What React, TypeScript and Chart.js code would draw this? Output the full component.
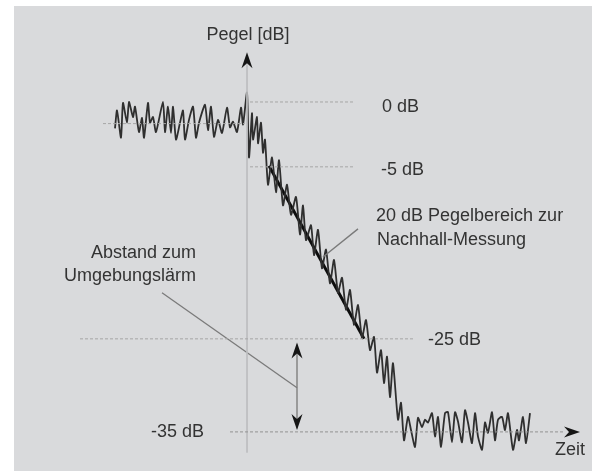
import React, { useEffect, useRef } from "react";
import { Chart, registerables } from "chart.js";

Chart.register(...registerables);

// Measured level curve (time in ms relative to switch-off, level in dB)
const timeMs = [
  -132, -130, -126, -124, -120, -118, -114, -112, -108, -105, -103, -99, -97, -94, -91, -84, -82, -79, -76, -74,
  -71, -67, -64, -62, -58, -54, -51, -48, -42, -39, -36, -33, -29, -25, -20, -17, -14, -10, -6, -4,
  0, 2, 5, 6, 10, 11, 14, 16, 18, 21, 25, 29, 32, 36, 40, 44, 49, 53, 56, 59,
  64, 67, 71, 75, 79, 83, 87, 91, 95, 99, 103, 107, 111, 115, 119, 123, 127, 130, 134, 137,
  140, 143, 146, 151, 154, 157, 161, 164, 168, 171, 175, 178, 181, 185, 188, 191, 194, 198, 201, 205,
  208, 211, 215, 218, 221, 225, 228, 231, 235, 238, 241, 245, 248, 251, 255, 258, 261, 266, 270, 272,
  276, 279, 283,
];
const levelDb = [
  -2.8, -0.9, -3.8, -0.1, -2.2, 0.0, -1.6, -0.5, -3.2, -1.7, -3.8, -0.1, -2.2, -1.6, -3.2, 0.0, -3.2, -0.5, -3.3, -0.5,
  -4.0, -2.2, -0.9, -4.0, -1.9, -0.5, -3.8, -2.2, -0.3, -3.0, -0.5, -3.7, -1.9, -3.3, -0.6, -2.7, -2.1, -3.2, -0.6, -2.4,
  1.0, -5.9, -1.2, -4.0, -1.6, -4.4, -2.2, -5.4, -4.0, -8.8, -5.9, -9.6, -6.2, -11.0, -8.8, -12.0, -10.1, -14.1, -11.0, -14.7,
  -13.1, -16.3, -13.6, -17.7, -15.7, -19.3, -16.8, -20.3, -18.7, -22.1, -20.0, -23.7, -21.6, -25.1, -23.2, -26.4, -25.0, -28.8, -26.4, -29.9,
  -27.1, -31.4, -27.8, -33.8, -32.0, -36.0, -33.5, -34.9, -36.7, -33.6, -34.6, -33.8, -34.1, -33.1, -35.6, -33.5, -36.7, -33.1, -33.0, -36.2,
  -33.0, -34.0, -36.2, -32.8, -34.1, -36.3, -33.1, -35.6, -37.0, -34.1, -35.2, -33.0, -36.0, -33.8, -33.5, -34.9, -33.1, -37.0, -34.9, -36.0,
  -33.5, -36.3, -33.1,
];

// Regression line over the 20 dB evaluation range
const regressionMs = [22, 117];
const regressionDb = [-6.8, -25.2];

// Reference level lines
const refLevelDb = [0, -6.9, -25.2, -35.1, -2.3];
const refStartMs = [3, 3, -167, -17, -144];
const refEndMs = [108, 106, 166, 316, -2];

// Level axis (vertical)
const axisMs = [0, 0];
const axisDb = [4.5, -37.3];

// Leader lines
const leaderAbstandMs = [-85, 50];
const leaderAbstandDb = [-20.3, -30.4];
const leaderRangeMs = [76, 111];
const leaderRangeDb = [-16.5, -13.5];

// Double arrow (distance to ambient noise)
const gapMs = [50, 50];
const gapDb = [-25.8, -34.7];

// Arrow heads
const arrowMs = [0, 50, 50, 333];
const arrowDb = [5.3, -25.6, -34.9, -35.1];
const arrowDir = ["up", "up", "down", "right"];

// Text labels
const labelText = [
  "Pegel [dB]", "0 dB", "-5 dB", "20 dB Pegelbereich zur", "Nachhall-Messung",
  "Abstand zum", "Umgebungslärm", "-25 dB", "-35 dB", "Zeit",
];
const labelMs = [1, 135, 134, 129, 130, -51, -51, 181, -96, 308];
const labelDb = [7.1, -0.5, -7.2, -12.1, -14.7, -16.1, -18.5, -25.3, -35.1, -37.0];
const labelAlign = ["center", "left", "left", "left", "left", "right", "right", "left", "left", "left"];

const pts = (xs: number[], ys: number[]) => xs.map((x, i) => ({ x, y: ys[i] }));

function drawArrow(ctx: CanvasRenderingContext2D, px: number, py: number, dir: string) {
  const len = 16, half = 5.5, notch = 11;
  const ang = dir === "up" ? 0 : dir === "down" ? Math.PI : Math.PI / 2;
  ctx.save();
  ctx.translate(px, py);
  ctx.rotate(ang);
  ctx.beginPath();
  ctx.moveTo(0, 0);
  ctx.lineTo(-half, len);
  ctx.lineTo(0, notch);
  ctx.lineTo(half, len);
  ctx.closePath();
  ctx.fillStyle = "#151515";
  ctx.fill();
  ctx.restore();
}

const annotPlugin = {
  id: "annot",
  afterDatasetsDraw(chart: any) {
    const { ctx, scales } = chart;
    const xs = scales.x, ys = scales.y;
    ctx.save();
    arrowMs.forEach((t, i) => {
      drawArrow(ctx, xs.getPixelForValue(t), ys.getPixelForValue(arrowDb[i]), arrowDir[i]);
    });
    ctx.font = '18px "Liberation Sans", Arial, sans-serif';
    ctx.fillStyle = "#333333";
    ctx.textBaseline = "middle";
    labelText.forEach((s, i) => {
      ctx.textAlign = labelAlign[i];
      ctx.fillText(s, xs.getPixelForValue(labelMs[i]), ys.getPixelForValue(labelDb[i]));
    });
    ctx.restore();
  },
};

export default function App() {
  const ref = useRef<HTMLCanvasElement | null>(null);
  useEffect(() => {
    if (!ref.current) return;
    const refSets = refLevelDb.map((lv, i) => ({
      data: pts([refStartMs[i], refEndMs[i]], [lv, lv]),
      borderColor: i === 3 ? "#939393" : "#a6a6a6",
      borderWidth: 1,
      borderDash: [3, 2],
      pointRadius: 0,
    }));
    const chart = new Chart(ref.current, {
      type: "line",
      data: {
        datasets: [
          ...refSets,
          { data: pts(axisMs, axisDb), borderColor: "#bdbec0", borderWidth: 1, pointRadius: 0 },
          { data: pts(leaderAbstandMs, leaderAbstandDb), borderColor: "#7a7a7a", borderWidth: 1.3, pointRadius: 0 },
          { data: pts(leaderRangeMs, leaderRangeDb), borderColor: "#7a7a7a", borderWidth: 1.3, pointRadius: 0 },
          { data: pts(gapMs, gapDb), borderColor: "#8a8a8a", borderWidth: 1.6, pointRadius: 0 },
          { data: pts(timeMs, levelDb), borderColor: "#2f2f2f", borderWidth: 1.8, pointRadius: 0, tension: 0.2 },
          { data: pts(regressionMs, regressionDb), borderColor: "#0d0d0d", borderWidth: 3, pointRadius: 0 },
        ],
      },
      options: {
        animation: false,
        responsive: false,
        maintainAspectRatio: false,
        devicePixelRatio: 1,
        layout: { padding: 0 },
        plugins: { legend: { display: false }, tooltip: { enabled: false } },
        elements: { line: { fill: false } },
        scales: {
          x: { type: "linear", min: -247, max: 345, display: false },
          y: { type: "linear", min: -39.26, max: 10.85, display: false },
        },
      },
      plugins: [annotPlugin],
    });
    return () => chart.destroy();
  }, []);

  return (
    <div style={{ position: "absolute", left: 0, top: 0, width: 592, height: 471, background: "#ffffff" }}>
      <div style={{ position: "absolute", left: 14, top: 6, width: 578, height: 465, background: "#d9dadc" }} />
      <canvas ref={ref} width={592} height={471} style={{ position: "absolute", left: 0, top: 0 }} />
    </div>
  );
}
